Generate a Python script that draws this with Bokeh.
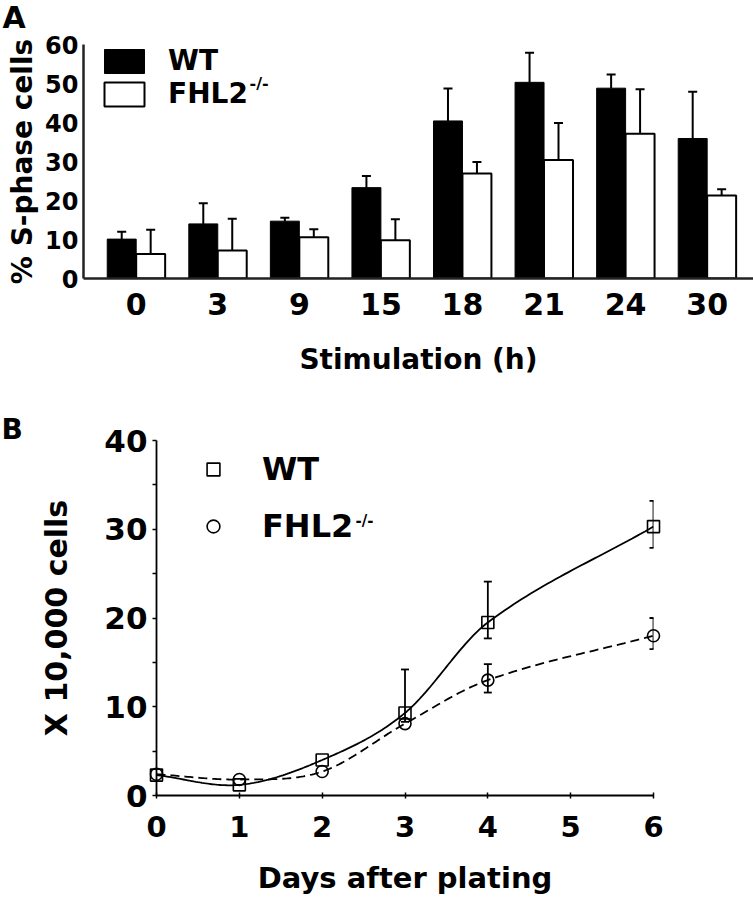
import numpy as np
from bokeh.plotting import figure
from bokeh.models import (Range1d, FixedTicker, ColumnDataSource, Whisker, TeeHead,
                          Legend, LegendItem)
from bokeh.core.properties import value
from bokeh.embed import file_html
from bokeh.resources import INLINE

FONT = "DejaVu Sans"

# ---------------- Panel A data ----------------
hours = ["0", "3", "9", "15", "18", "21", "24", "30"]
wt_a = [10.1, 14.0, 14.7, 23.3, 40.4, 50.3, 48.8, 35.9]
wt_a_err = [1.9, 5.3, 0.9, 3.0, 8.3, 7.6, 3.5, 12.0]
ko_a = [6.3, 7.2, 10.6, 9.8, 26.9, 30.4, 37.1, 21.3]
ko_a_err = [6.2, 8.1, 2.0, 5.4, 3.0, 9.5, 11.4, 1.6]
a_yticks = [0, 10, 20, 30, 40, 50, 60]

# ---------------- Panel B data ----------------
days = [0, 1, 2, 3, 4, 6]
wt_b = [2.3, 1.2, 4.0, 9.3, 19.5, 30.3]
wt_b_hi = [0, 0, 0, 4.9, 4.6, 2.9]
wt_b_lo = [0, 0, 0, 1.0, 1.8, 2.4]
ko_b = [2.4, 1.8, 2.7, 8.1, 13.0, 18.0]
ko_b_hi = [0, 0, 0, 0, 1.8, 2.0]
ko_b_lo = [0, 0, 0, 0, 1.4, 1.5]
b_yticks = [0, 10, 20, 30, 40]
b_xticks = [0, 1, 2, 3, 4, 5, 6]

W = 753
HA = 410
HB = 487


def style_axis(ax, tick_size, title_size):
    ax.major_label_text_font = FONT
    ax.major_label_text_font_style = "bold"
    ax.major_label_text_font_size = tick_size
    ax.major_label_text_color = "black"
    ax.axis_label_text_font = FONT
    ax.axis_label_text_font_style = "bold"
    ax.axis_label_text_font_size = title_size
    ax.axis_label_text_color = "black"


def put_text(p, x, y, txt, size):
    r = p.text(x=[x], y=[y], text=[txt], text_font=value(FONT), text_font_style="bold",
               text_font_size=size, text_baseline="alphabetic", text_align="left",
               text_color="black")
    r.level = "annotation"
    return r


# ================= Panel A =================
A_XS, A_XE = -0.646, 7.568
pa = figure(width=W, height=HA, output_backend="svg", toolbar_location=None,
            x_range=Range1d(A_XS, A_XE), y_range=Range1d(0, 60),
            min_border_left=83, min_border_right=0, min_border_top=44,
            min_border_bottom=HA - 44 - 234)
pa.outline_line_color = None
pa.grid.visible = False

xi = np.arange(len(hours))
bw = 0.355
src_a = ColumnDataSource(dict(
    x_wt=xi - bw / 2, x_ko=xi + bw / 2,
    wt=wt_a, ko=ko_a,
    wt_top=np.add(wt_a, wt_a_err), ko_top=np.add(ko_a, ko_a_err)))

r_wt = pa.vbar(x="x_wt", top="wt", bottom=0, width=bw, fill_color="black",
               line_color="black", source=src_a)
r_ko = pa.vbar(x="x_ko", top="ko", bottom=0, width=bw, fill_color="white",
               line_color="black", line_width=2, source=src_a)

for base, lo, hi in [("x_wt", "wt", "wt_top"), ("x_ko", "ko", "ko_top")]:
    pa.add_layout(Whisker(base=base, lower=lo, upper=hi, source=src_a,
                          dimension="height", line_width=2, line_color="black",
                          lower_head=None,
                          upper_head=TeeHead(size=9, line_width=2, line_color="black")))

style_axis(pa.xaxis[0], "30px", "28px")
style_axis(pa.yaxis[0], "24px", "28px")
pa.xaxis.ticker = FixedTicker(ticks=list(xi))
pa.xaxis.major_label_overrides = {int(i): h for i, h in zip(xi, hours)}
pa.yaxis.ticker = FixedTicker(ticks=a_yticks)
for ax in (pa.xaxis[0], pa.yaxis[0]):
    ax.axis_line_width = 2.5
    ax.axis_line_color = "#222222"
    ax.major_tick_line_color = None
    ax.minor_tick_line_color = None
    ax.major_tick_out = 0
    ax.major_tick_in = 0
    ax.minor_tick_out = 0
pa.xaxis.major_label_standoff = 14
pa.xaxis.axis_label = "Stimulation (h)"
pa.xaxis.axis_label_standoff = 25
pa.yaxis.major_label_standoff = 5
pa.yaxis.axis_label = "% S-phase cells"
pa.yaxis.axis_label_standoff = 3

leg_a = Legend(items=[LegendItem(label="WT", renderers=[r_wt]),
                      LegendItem(label="FHL2", renderers=[r_ko])],
               location=(16, 168), orientation="vertical",
               glyph_width=50, glyph_height=30, label_standoff=19,
               spacing=0, padding=0, margin=0,
               border_line_color=None, background_fill_alpha=0,
               label_text_font=FONT, label_text_font_style="bold",
               label_text_font_size="28px", label_text_color="black")
pa.add_layout(leg_a)


def a_px(wx, wy):
    # pixel position in panel A -> data coordinates (layout helper)
    return (A_XS + (wx - 83) / 81.57, 60 + (44 - wy) / 3.9)


put_text(pa, *a_px(249, 83), "-/-", "16px")
put_text(pa, *a_px(2, 17), "A", "30px")

# ================= Panel B =================
pb = figure(width=W, height=HB, output_backend="svg", toolbar_location=None,
            x_range=Range1d(0, 6), y_range=Range1d(0, 40),
            min_border_left=156, min_border_right=W - 156 - 497, min_border_top=30,
            min_border_bottom=HB - 30 - 356)
pb.outline_line_color = None
pb.grid.visible = False


def hermite(xv, yv, n=40):
    xv = np.asarray(xv, float)
    yv = np.asarray(yv, float)
    m = np.empty_like(yv)
    m[1:-1] = (yv[2:] - yv[:-2]) / (xv[2:] - xv[:-2])
    m[0] = (yv[1] - yv[0]) / (xv[1] - xv[0])
    m[-1] = (yv[-1] - yv[-2]) / (xv[-1] - xv[-2])
    xo, yo = [], []
    for i in range(len(xv) - 1):
        h = xv[i + 1] - xv[i]
        t = np.linspace(0, 1, n, endpoint=(i == len(xv) - 2))
        h00 = 2 * t ** 3 - 3 * t ** 2 + 1
        h10 = t ** 3 - 2 * t ** 2 + t
        h01 = -2 * t ** 3 + 3 * t ** 2
        h11 = t ** 3 - t ** 2
        xo.append(xv[i] + t * h)
        yo.append(h00 * yv[i] + h10 * h * m[i] + h01 * yv[i + 1] + h11 * h * m[i + 1])
    return np.concatenate(xo), np.concatenate(yo)


cx, cy = hermite(days, wt_b)
pb.line(cx, cy, line_color="black", line_width=1.8)
cx2, cy2 = hermite(days, ko_b)
pb.line(cx2, cy2, line_color="black", line_width=1.8, line_dash="9 5")


def whiskers(vals, hi, lo):
    idx_h = [i for i in range(len(days)) if hi[i] > 0]
    idx_l = [i for i in range(len(days)) if lo[i] > 0]
    sh = ColumnDataSource(dict(x=[days[i] for i in idx_h], lo=[vals[i] for i in idx_h],
                               hi=[vals[i] + hi[i] for i in idx_h]))
    sl = ColumnDataSource(dict(x=[days[i] for i in idx_l], hi=[vals[i] for i in idx_l],
                               lo=[vals[i] - lo[i] for i in idx_l]))
    pb.add_layout(Whisker(base="x", lower="lo", upper="hi", source=sh, dimension="height",
                          line_width=1.8, lower_head=None,
                          upper_head=TeeHead(size=8, line_width=1.8)))
    pb.add_layout(Whisker(base="x", lower="lo", upper="hi", source=sl, dimension="height",
                          line_width=1.8, upper_head=None,
                          lower_head=TeeHead(size=8, line_width=1.8)))


whiskers(wt_b, wt_b_hi, wt_b_lo)
whiskers(ko_b, ko_b_hi, ko_b_lo)

r_sq = pb.scatter(days, wt_b, marker="square", size=12, fill_color=None,
                  line_color="black", line_width=1.6)
r_ci = pb.scatter(days, ko_b, marker="circle", size=12, fill_color=None,
                  line_color="black", line_width=1.6)
r_sq.level = "annotation"
r_ci.level = "annotation"

style_axis(pb.xaxis[0], "29px", "29px")
style_axis(pb.yaxis[0], "31px", "30px")
pb.xaxis.ticker = FixedTicker(ticks=b_xticks)
pb.yaxis.ticker = FixedTicker(ticks=b_yticks, minor_ticks=[t + 5 for t in b_yticks[:-1]])
for ax in (pb.xaxis[0], pb.yaxis[0]):
    ax.axis_line_width = 1.8
    ax.axis_line_color = "black"
    ax.major_tick_line_color = "black"
    ax.major_tick_line_width = 1.5
    ax.minor_tick_line_color = "black"
    ax.minor_tick_line_width = 1.5
pb.xaxis.major_tick_in = 3
pb.xaxis.major_tick_out = 3
pb.xaxis.minor_tick_line_color = None
pb.yaxis.major_tick_in = 0
pb.yaxis.major_tick_out = 4
pb.yaxis.minor_tick_in = 0
pb.yaxis.minor_tick_out = 4
pb.xaxis.major_label_standoff = 17
pb.xaxis.axis_label = "Days after plating"
pb.xaxis.axis_label_standoff = 21
pb.yaxis.major_label_standoff = 5
pb.yaxis.axis_label = "X 10,000 cells"
pb.yaxis.axis_label_standoff = 27

leg_b = Legend(items=[LegendItem(label="WT", renderers=[r_sq]),
                      LegendItem(label="FHL2", renderers=[r_ci])],
               location=(41, 250), orientation="vertical",
               glyph_width=32, glyph_height=32, label_standoff=33,
               spacing=19, padding=0, margin=0,
               border_line_color=None, background_fill_alpha=0,
               label_text_font=FONT, label_text_font_style="bold",
               label_text_font_size="32px", label_text_color="black")
pb.add_layout(leg_b)


def b_px(wx, wy):
    # pixel position in panel B -> data coordinates (layout helper)
    return ((wx - 156) / 82.83, 40 + (30 - (wy - HA)) / 8.89)


put_text(pb, *b_px(355, 521), "-/-", "15px")
put_text(pb, *b_px(1, 429), "B", "28px")

open("out.html", "w").write(file_html([pa, pb], INLINE))
